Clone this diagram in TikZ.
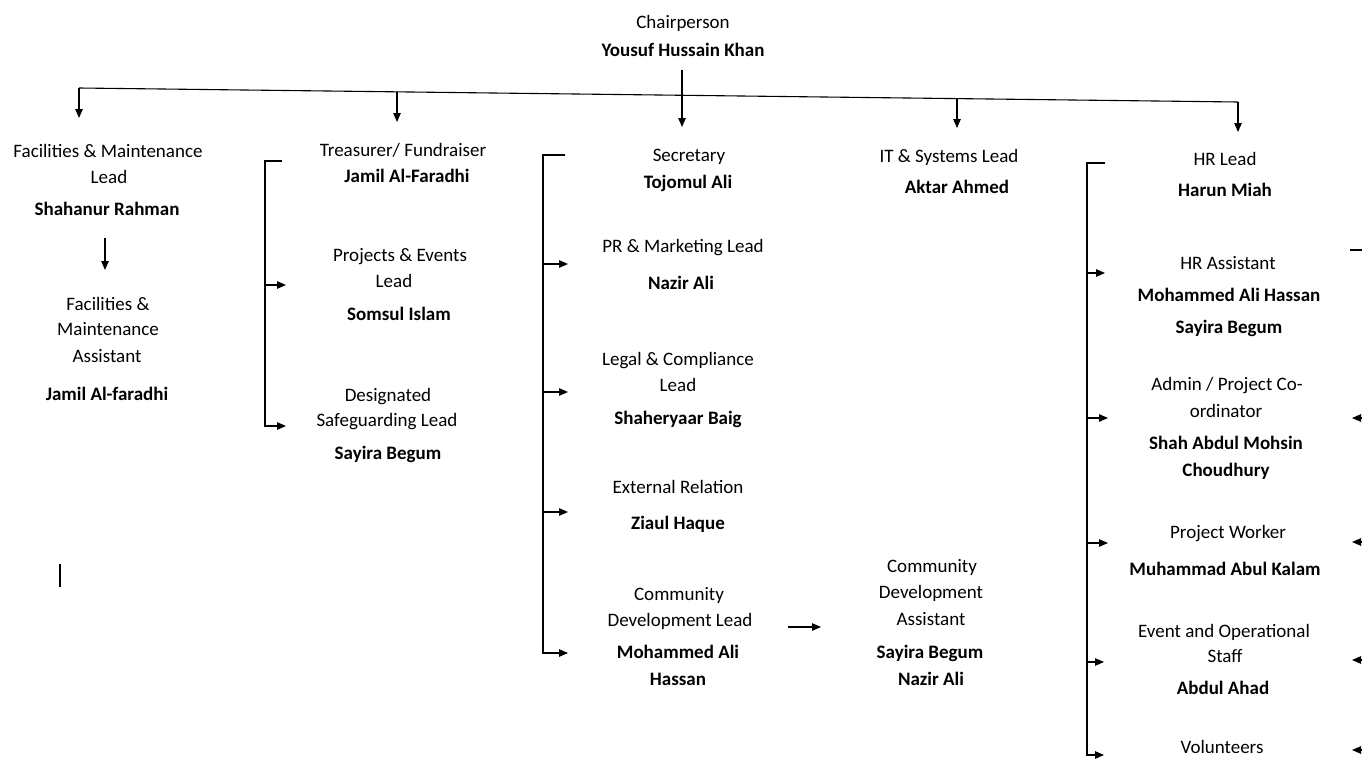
\documentclass[tikz,border=0pt]{standalone}
\usepackage{fontspec}
\setmainfont{Carlito}
\usetikzlibrary{arrows.meta}
\begin{document}
\begin{tikzpicture}[x=1pt,y=-1pt,
  t/.style={font=\fontsize{19}{22}\selectfont, inner sep=0pt, text height=10pt, text depth=1.4pt, text=black},
  tb/.style={t, font=\fontsize{19}{22}\selectfont\bfseries},
  ln/.style={line width=1.1pt, draw=black},
  arr/.style={ln, -{Triangle[length=9pt,width=7.5pt]}}]
\useasboundingbox (0,0) rectangle (1362,760);
% Chairperson
\node[t]  (chT) at (683,24) {Chairperson};
\node[tb] (chN) at (683,52) {Yousuf Hussain Khan};
% Column 1
\node[t]  (fmT1) at (108,153) {Facilities \& Maintenance};
\node[t]  (fmT2) at (109,179) {Lead};
\node[tb] (fmN)  at (107,211) {Shahanur Rahman};
\node[t]  (faT1) at (108,306) {Facilities \&};
\node[t]  (faT2) at (108,331) {Maintenance};
\node[t]  (faT3) at (107,358) {Assistant};
\node[tb] (faN)  at (107,396) {Jamil Al-faradhi};
% Column 2
\node[t]  (trT)  at (403,152) {Treasurer/ Fundraiser};
\node[tb] (trN)  at (407,178) {Jamil Al-Faradhi};
\node[t]  (peT1) at (400,257) {Projects \& Events};
\node[t]  (peT2) at (394,283) {Lead};
\node[tb] (peN)  at (399,316) {Somsul Islam};
\node[t]  (sgT1) at (388,397) {Designated};
\node[t]  (sgT2) at (387,422) {Safeguarding Lead};
\node[tb] (sgN)  at (388,455) {Sayira Begum};
% Column 3
\node[t]  (seT)  at (689,157) {Secretary};
\node[tb] (seN)  at (688,184) {Tojomul Ali};
\node[t]  (prT)  at (683,248) {PR \& Marketing Lead};
\node[tb] (prN)  at (681,285) {Nazir Ali};
\node[t]  (lcT1) at (678,361) {Legal \& Compliance};
\node[t]  (lcT2) at (678,387) {Lead};
\node[tb] (lcN)  at (678,420) {Shaheryaar Baig};
\node[t]  (erT)  at (678,489) {External Relation};
\node[tb] (erN)  at (678,525) {Ziaul Haque};
\node[t]  (cdT1) at (679,596) {Community};
\node[t]  (cdT2) at (680,622) {Development Lead};
\node[tb] (cdN1) at (678,654) {Mohammed Ali};
\node[tb] (cdN2) at (678,681) {Hassan};
% Community development assistant
\node[t]  (caT1) at (932,568) {Community};
\node[t]  (caT2) at (931,594) {Development};
\node[t]  (caT3) at (931,621) {Assistant};
\node[tb] (caN1) at (930,654) {Sayira Begum};
\node[tb] (caN2) at (931,681) {Nazir Ali};
% IT
\node[t]  (itT)  at (949,158) {IT \& Systems Lead};
\node[tb] (itN)  at (957,189) {Aktar Ahmed};
% HR
\node[t]  (hrT)  at (1225,161) {HR Lead};
\node[tb] (hrN)  at (1225,192) {Harun Miah};
\node[t]  (haT)  at (1228,265) {HR Assistant};
\node[tb] (haN1) at (1229,297) {Mohammed Ali Hassan};
\node[tb] (haN2) at (1229,329) {Sayira Begum};
\node[t]  (adT1) at (1227,386) {Admin / Project Co-};
\node[t]  (adT2) at (1226,413) {ordinator};
\node[tb] (adN1) at (1226,445) {Shah Abdul Mohsin};
\node[tb] (adN2) at (1226,472) {Choudhury};
\node[t]  (pwT)  at (1228,534) {Project Worker};
\node[tb] (pwN)  at (1225,571) {Muhammad Abul Kalam};
\node[t]  (evT1) at (1224,633) {Event and Operational};
\node[t]  (evT2) at (1225,658) {Staff};
\node[tb] (evN)  at (1223,690) {Abdul Ahad};
\node[t]  (voT)  at (1222,749) {Volunteers};
% coordinates
\coordinate (busL) at (79,88);
\coordinate (busR) at (1238,102);
\coordinate (bus2) at (397,91.8);
\coordinate (bus4) at (957,98.6);
\coordinate (a1) at (79,118);
\coordinate (a2) at (397,122);
\coordinate (chB) at (682,70);
\coordinate (a3) at (682,127);
\coordinate (a4) at (957,128);
\coordinate (a5) at (1238,132);
\coordinate (fmA) at (105,238);
\coordinate (fmB) at (105,270);
% bracket 2
\coordinate (b2k) at (282,161);
\coordinate (b2t) at (265,161);
\coordinate (b2m) at (265,285);
\coordinate (b2b) at (265,426);
\coordinate (b2e1) at (286,285);
\coordinate (b2e2) at (286,426);
% bracket 3
\coordinate (b3k) at (565,155);
\coordinate (b3t) at (543,155);
\coordinate (b3m1) at (543,264);
\coordinate (b3m2) at (543,392);
\coordinate (b3m3) at (543,512);
\coordinate (b3b) at (543,653);
\coordinate (b3e1) at (568,264);
\coordinate (b3e2) at (568,392);
\coordinate (b3e3) at (568,512);
\coordinate (b3e4) at (568,653);
% community dev arrow
\coordinate (cdA) at (788,627);
\coordinate (cdB) at (821,627);
% bracket HR
\coordinate (b5k) at (1105,163);
\coordinate (b5t) at (1087,163);
\coordinate (b5m1) at (1087,273);
\coordinate (b5m2) at (1087,418);
\coordinate (b5m3) at (1087,543);
\coordinate (b5m4) at (1087,662);
\coordinate (b5b) at (1087,755);
\coordinate (b5e1) at (1105,273);
\coordinate (b5e2) at (1108,418);
\coordinate (b5e3) at (1108,543);
\coordinate (b5e4) at (1104,662);
\coordinate (b5e5) at (1104,755);
% edge fragments
\coordinate (rA) at (1350,250);
\coordinate (rB) at (1362,250);
\coordinate (lmA) at (60,564);
\coordinate (lmB) at (60,587);
% drawing
\draw[ln] (busL) -- (busR);
\draw[arr] (busL) -- (a1);
\draw[arr] (bus2) -- (a2);
\draw[arr] (chB) -- (a3);
\draw[arr] (bus4) -- (a4);
\draw[arr] (busR) -- (a5);
\draw[arr] (fmA) -- (fmB);
\draw[arr] (b2k) -- (b2t) -- (b2b) -- (b2e2);
\draw[arr] (b2m) -- (b2e1);
\draw[arr] (b3k) -- (b3t) -- (b3b) -- (b3e4);
\draw[arr] (b3m1) -- (b3e1);
\draw[arr] (b3m2) -- (b3e2);
\draw[arr] (b3m3) -- (b3e3);
\draw[arr] (cdA) -- (cdB);
\draw[arr] (b5k) -- (b5t) -- (b5b) -- (b5e5);
\draw[arr] (b5m1) -- (b5e1);
\draw[arr] (b5m2) -- (b5e2);
\draw[arr] (b5m3) -- (b5e3);
\draw[arr] (b5m4) -- (b5e4);
\draw[ln] (rA) -- (rB);
\foreach \yy in {418,542,660,750} {
  \draw[arr] (1364,\yy) -- (1352,\yy);
}
\draw[ln] (lmA) -- (lmB);
\end{tikzpicture}
\end{document}
